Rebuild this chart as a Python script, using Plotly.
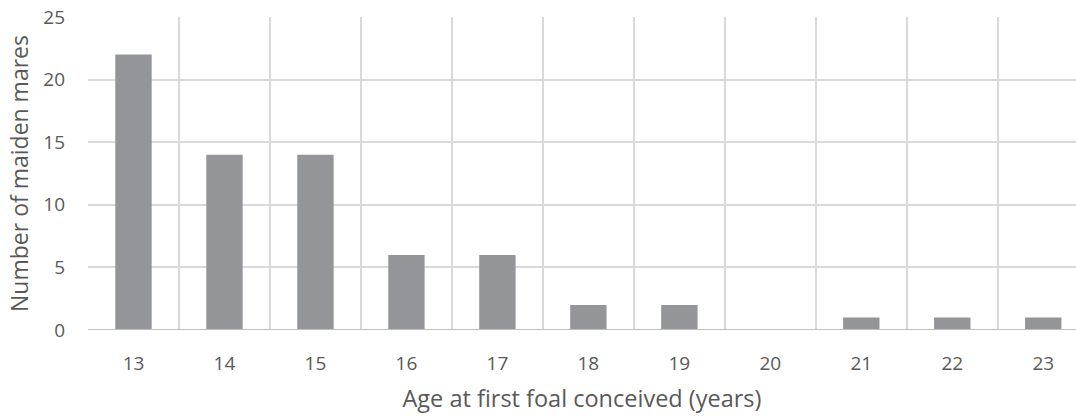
import plotly.graph_objects as go

ages = [13, 14, 15, 16, 17, 18, 19, 20, 21, 22, 23]
counts = [22, 14, 14, 6, 6, 2, 2, 0, 1, 1, 1]
y_ticks = [0, 5, 10, 15, 20, 25]

text_color = "#595959"
grid_color = "#d9d9d9"
font_family = "Open Sans, Lato, sans-serif"

fig = go.Figure()
fig.add_trace(go.Bar(
    x=ages, y=counts, width=0.4,
    marker=dict(color="#939598", line=dict(width=0)),
))

boundaries = [a - 0.5 for a in ages] + [ages[-1] + 0.5]

fig.update_layout(
    width=1076, height=417,
    margin=dict(l=88, r=0, t=17, b=87),
    paper_bgcolor="white", plot_bgcolor="white",
    showlegend=False,
    font=dict(family=font_family, color=text_color, size=19),
    xaxis=dict(
        range=[12.5, 23.36],
        tickvals=ages, ticktext=[str(a) for a in ages],
        showgrid=False, zeroline=False, automargin=False,
        ticks="", ticklabelstandoff=20,
        minor=dict(tickvals=boundaries, showgrid=True, gridcolor=grid_color, gridwidth=1.5, ticks=""),
        showline=False,
        title=dict(text="Age at first foal conceived (years)", font=dict(size=23.5, color=text_color), standoff=15),
        tickfont=dict(size=19, color=text_color),
    ),
    yaxis=dict(
        range=[0, 25],
        tickvals=y_ticks,
        showgrid=True, gridcolor=grid_color, gridwidth=1.5,
        zeroline=False, automargin=False,
        showline=False,
        ticks="", ticklabelstandoff=22,
        title=dict(text="Number of maiden mares", font=dict(size=23, color=text_color), standoff=8),
        tickfont=dict(size=19, color=text_color),
    ),
)

fig.add_hline(y=0, line=dict(color="#bfbfbf", width=2), layer="above")

fig.write_html("out.html", config={"displayModeBar": False},
               post_script="document.body.style.margin='0px';")
